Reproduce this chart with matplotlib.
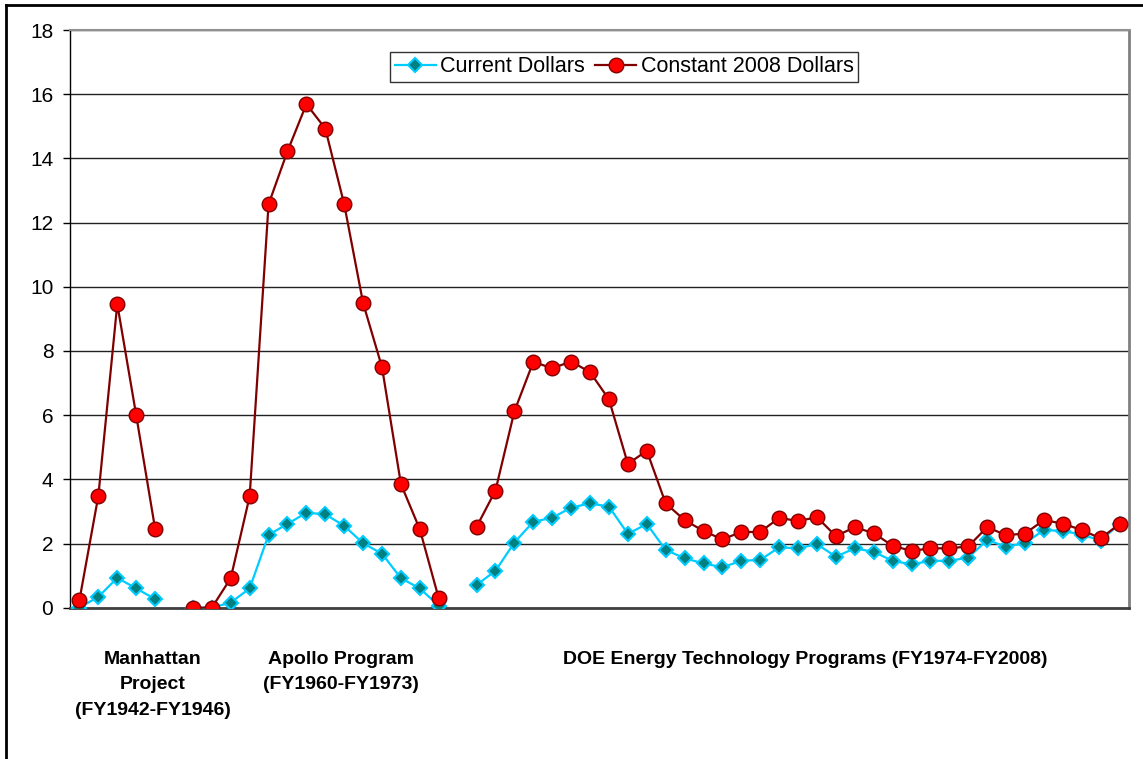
import numpy as np
import matplotlib
matplotlib.use('Agg')
import matplotlib.pyplot as plt
from matplotlib.lines import Line2D

plt.rcParams['font.family'] = ['Liberation Sans', 'DejaVu Sans']

# ---- data ----
manhattan_current = [0.0, 0.34, 0.93, 0.60, 0.27]
manhattan_constant = [0.24, 3.49, 9.46, 6.00, 2.46]
apollo_current = [0.0, 0.0, 0.16, 0.60, 2.27, 2.61, 2.96, 2.91, 2.55, 2.01, 1.68, 0.92, 0.60, 0.06]
apollo_constant = [0.0, 0.0, 0.92, 3.47, 12.57, 14.22, 15.69, 14.93, 12.57, 9.49, 7.49, 3.85, 2.44, 0.29]
doe_current = [0.71, 1.15, 2.03, 2.68, 2.80, 3.12, 3.25, 3.15, 2.30, 2.61, 1.80, 1.54, 1.38, 1.26,
               1.46, 1.49, 1.88, 1.85, 1.98, 1.59, 1.85, 1.74, 1.46, 1.35, 1.46, 1.46, 1.56, 2.11,
               1.90, 2.01, 2.42, 2.39, 2.28, 2.09, 2.61]
doe_constant = [2.52, 3.65, 6.12, 7.66, 7.46, 7.67, 7.34, 6.49, 4.48, 4.89, 3.25, 2.73, 2.39, 2.13,
                2.36, 2.36, 2.80, 2.70, 2.82, 2.23, 2.51, 2.32, 1.93, 1.77, 1.85, 1.85, 1.91, 2.51,
                2.26, 2.31, 2.73, 2.62, 2.42, 2.16, 2.61]
program_labels = ["Manhattan\nProject\n(FY1942-FY1946)",
                  "Apollo Program\n(FY1960-FY1973)",
                  "DOE Energy Technology Programs (FY1974-FY2008)"]
series_names = ["Current Dollars", "Constant 2008 Dollars"]
y_ticks = [0, 2, 4, 6, 8, 10, 12, 14, 16, 18]

gap = [np.nan]
current = np.array(manhattan_current + gap + apollo_current + gap + doe_current, dtype=float)
constant = np.array(manhattan_constant + gap + apollo_constant + gap + doe_constant, dtype=float)
x = np.arange(len(current))

fig = plt.figure(figsize=(11.43, 7.59), dpi=100)
W, H = 1143, 759
ax = fig.add_axes([70 / W, 1 - 607.7 / H, (1129 - 70) / W, (607.7 - 30) / H])

ax.plot(x, current, color='#00CCFF', lw=1.6, marker='D', markersize=7.5,
        markerfacecolor='#008080', markeredgecolor='#00CCFF', markeredgewidth=1.5,
        label=series_names[0], zorder=3)
ax.plot(x, constant, color='#800000', lw=1.6, marker='o', markersize=10.5,
        markerfacecolor='#FF0000', markeredgecolor='#800000', markeredgewidth=1.0,
        label=series_names[1], zorder=4)

ax.set_xlim(-0.5, len(current) - 0.5)
ax.set_ylim(0, 18)
ax.set_yticks(y_ticks)
ax.set_xticks([])
ax.tick_params(axis='y', direction='out', length=5, width=1, pad=7, labelsize=15, colors='black')
ax.grid(axis='y', color='#222222', lw=1.0, zorder=0)
ax.set_axisbelow(True)

ax.spines['left'].set_color('black')
ax.spines['left'].set_linewidth(1.0)
ax.spines['bottom'].set_color('#404040')
ax.spines['bottom'].set_linewidth(2.0)
ax.spines['top'].set_color('#909090')
ax.spines['top'].set_linewidth(1.5)
ax.spines['right'].set_color('#808080')
ax.spines['right'].set_linewidth(2.0)

# program labels
label_x = [3.89, 13.83, 38.36]
label_y = 1 - 651 / H
for lx, txt in zip(label_x, program_labels):
    px = ax.transData.transform((lx, 0))[0] / W
    fig.text(px, label_y, txt, ha='center', va='top', fontsize=14, fontweight='bold',
             linespacing=1.64, multialignment='center')

leg = ax.legend(loc='upper center', bbox_to_anchor=(624 / W, 1 - 52 / H),
                bbox_transform=fig.transFigure, ncol=2, frameon=True, fancybox=False,
                edgecolor='black', fontsize=15.5, handlelength=1.9, handletextpad=0.2,
                columnspacing=0.5, borderpad=0.2, borderaxespad=0, numpoints=1)
leg.get_frame().set_linewidth(1.0)

# outer chart frame (left and top edges visible)
fig.add_artist(Line2D([6 / W, 6 / W], [0, 1 - 5 / H], transform=fig.transFigure, color='black', lw=2))
fig.add_artist(Line2D([6 / W, 1], [1 - 5 / H, 1 - 5 / H], transform=fig.transFigure, color='black', lw=2))

fig.savefig('out.png', dpi=100)
